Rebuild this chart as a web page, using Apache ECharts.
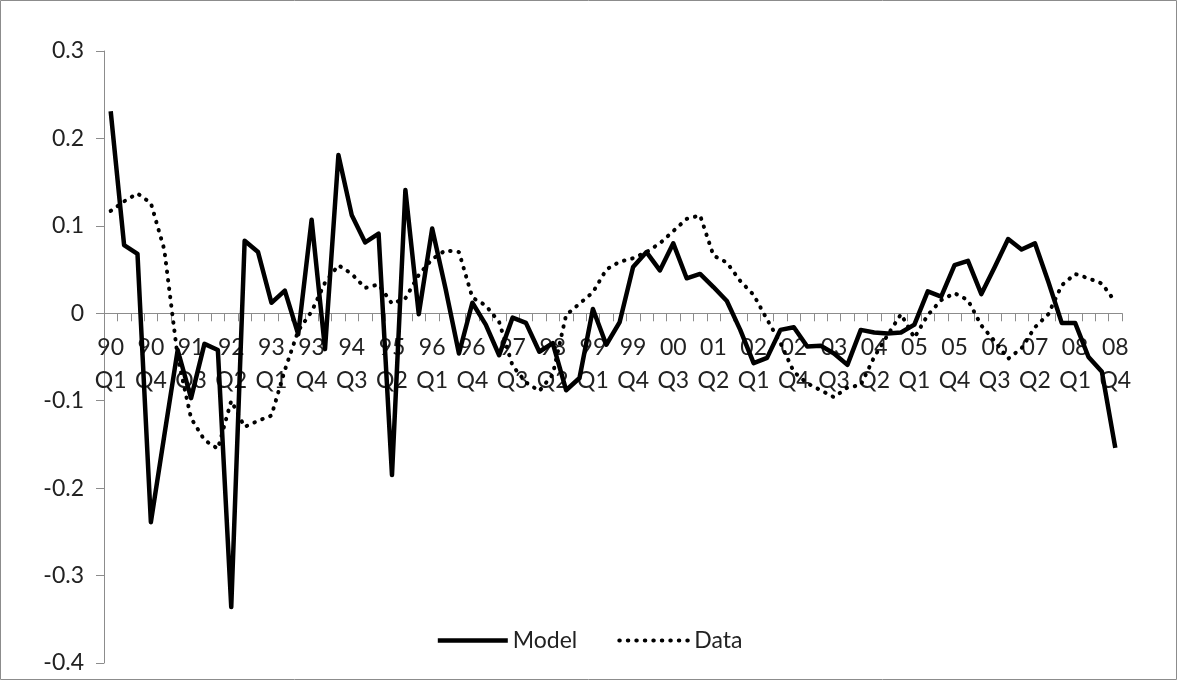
<!DOCTYPE html>
<html>
<head>
<meta charset="utf-8">
<script src="https://cdn.jsdelivr.net/npm/echarts@6/dist/echarts.min.js"></script>
<style>
html,body{margin:0;padding:0;background:#fff;}
#c{width:1178px;height:681px;}
</style>
</head>
<body>
<div id="c"></div>
<script>
const years = ['90','91','92','93','94','95','96','97','98','99','00','01','02','03','04','05','06','07','08'];
const quarters = ['Q1','Q2','Q3','Q4'];
const categories = [];
years.forEach(y => quarters.forEach(q => categories.push(y + '\n' + q)));

const modelValues = [
  0.231, 0.078, 0.068, -0.239, -0.14, -0.042, -0.097, -0.035, -0.042, -0.336,
  0.083, 0.070, 0.012, 0.026, -0.024, 0.107, -0.041, 0.181, 0.112, 0.081,
  0.091, -0.185, 0.141, -0.001, 0.097, 0.028, -0.046, 0.012, -0.013, -0.048,
  -0.005, -0.011, -0.044, -0.034, -0.088, -0.074, 0.005, -0.036, -0.010, 0.053,
  0.070, 0.049, 0.080, 0.040, 0.045, 0.030, 0.014, -0.019, -0.057, -0.051,
  -0.019, -0.016, -0.038, -0.037, -0.046, -0.059, -0.019, -0.022, -0.023, -0.022,
  -0.013, 0.025, 0.019, 0.055, 0.060, 0.022, 0.053, 0.085, 0.073, 0.080,
  0.036, -0.011, -0.011, -0.050, -0.067, -0.154
];

const dataValues = [
  0.117, 0.128, 0.137, 0.126, 0.073, -0.050, -0.120, -0.145, -0.155, -0.100,
  -0.130, -0.123, -0.117, -0.065, -0.020, 0.002, 0.035, 0.055, 0.045, 0.029,
  0.033, 0.011, 0.017, 0.044, 0.062, 0.072, 0.070, 0.018, 0.009, -0.010,
  -0.060, -0.079, -0.089, -0.070, -0.002, 0.011, 0.024, 0.050, 0.059, 0.063,
  0.070, 0.080, 0.094, 0.108, 0.112, 0.066, 0.058, 0.037, 0.021, -0.007,
  -0.034, -0.067, -0.080, -0.088, -0.096, -0.085, -0.082, -0.050, -0.025, -0.001,
  -0.028, -0.002, 0.015, 0.023, 0.015, -0.014, -0.032, -0.052, -0.040, -0.016,
  -0.001, 0.032, 0.045, 0.040, 0.034, 0.013
];

const yMin = -0.4, yMax = 0.3, yStep = 0.1;
const seriesNames = ['Model', 'Data'];

const W = 1178, H = 681;
const gridTop = 51, gridBottom = 18;
const gridH = H - gridTop - gridBottom;
// shift the category axis up so it sits on the value 0
const zeroOffset = -gridH * (0 - yMin) / (yMax - yMin);

const chart = echarts.init(document.getElementById('c'), null, {renderer: 'canvas'});
const font = 'Lato, "Open Sans", sans-serif';
const axisGray = '#8c8c8c';
const modelLine = {color: '#000', width: 4.5, join: 'round'};
const dataLine = {color: '#000', width: 4, type: [0.5, 8], cap: 'round'};

chart.setOption({
  animation: false,
  backgroundColor: '#ffffff',
  graphic: [{
    type: 'rect',
    shape: {x: 0.5, y: 0.5, width: W - 2, height: H - 2},
    style: {fill: 'none', stroke: '#8c8c8c', lineWidth: 1},
    silent: true
  }],
  grid: {left: 104, right: 56, top: gridTop, bottom: gridBottom, containLabel: false, outerBoundsMode: 'none'},
  legend: {
    data: [
      {name: seriesNames[0], itemStyle: {opacity: 0}, lineStyle: modelLine},
      {name: seriesNames[1], itemStyle: {opacity: 0}, lineStyle: dataLine}
    ],
    left: 'center',
    top: 624,
    itemWidth: 70,
    itemHeight: 14,
    itemGap: 40,
    textStyle: {fontFamily: font, fontSize: 23, color: '#222'}
  },
  xAxis: {
    type: 'category',
    data: categories,
    boundaryGap: true,
    position: 'bottom',
    offset: zeroOffset,
    axisLine: {onZero: false, lineStyle: {color: axisGray, width: 1}},
    axisTick: {show: true, interval: 0, length: 8, lineStyle: {color: axisGray}},
    axisLabel: {
      show: true,
      interval: 2,
      hideOverlap: false,
      margin: 18,
      fontFamily: font,
      fontSize: 23,
      lineHeight: 33,
      color: '#222'
    },
    splitLine: {show: false}
  },
  yAxis: {
    type: 'value',
    min: yMin,
    max: yMax,
    interval: yStep,
    axisLine: {show: true, lineStyle: {color: axisGray, width: 1}},
    axisTick: {show: true, length: 8, lineStyle: {color: axisGray}},
    axisLabel: {
      margin: 20,
      fontFamily: font,
      fontSize: 23,
      color: '#222',
      formatter: v => String(+v.toFixed(1))
    },
    splitLine: {show: false}
  },
  series: [
    {
      name: seriesNames[0],
      type: 'line',
      data: modelValues,
      symbol: 'none',
      showSymbol: false,
      z: 3,
      lineStyle: modelLine,
      itemStyle: {color: '#000'}
    },
    {
      name: seriesNames[1],
      type: 'line',
      data: dataValues,
      symbol: 'none',
      showSymbol: false,
      z: 2,
      lineStyle: dataLine,
      itemStyle: {color: '#000'}
    }
  ]
});
</script>
</body>
</html>
